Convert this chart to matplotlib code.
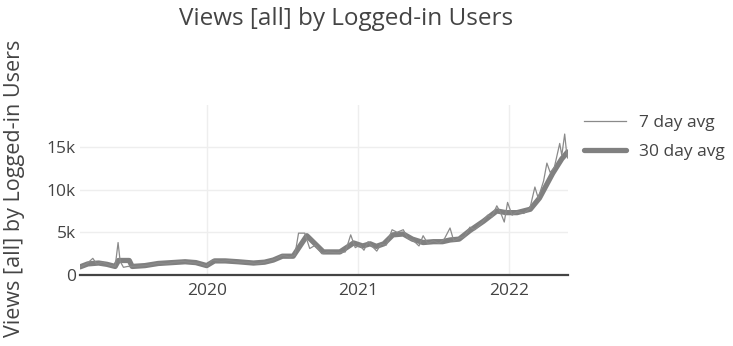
import matplotlib
matplotlib.use('Agg')
import matplotlib.pyplot as plt
from matplotlib.ticker import FuncFormatter
import numpy as np

plt.rcParams['font.family'] = ['Open Sans', 'DejaVu Sans']

TEXT = '#444444'
LINE = '#808080'

# 7 day average (thin, noisy)
dates_7 = ['2019-03-01', '2019-03-17', '2019-04-01', '2019-04-10', '2019-04-25',
           '2019-05-11', '2019-05-25', '2019-06-01', '2019-06-06', '2019-06-14',
           '2019-06-24', '2019-07-05', '2019-07-25', '2019-08-15', '2019-09-06',
           '2019-09-25', '2019-10-15', '2019-11-05', '2019-11-25', '2019-12-15',
           '2020-01-01', '2020-01-15', '2020-02-05', '2020-02-25', '2020-03-17',
           '2020-04-10', '2020-05-01', '2020-05-25', '2020-06-15', '2020-07-02',
           '2020-07-20', '2020-08-01', '2020-08-10', '2020-08-25', '2020-09-06',
           '2020-09-20', '2020-10-05', '2020-10-20', '2020-11-10', '2020-12-01',
           '2020-12-14', '2020-12-25', '2021-01-05', '2021-01-15', '2021-01-25',
           '2021-02-05', '2021-02-15', '2021-02-25', '2021-03-10', '2021-03-24',
           '2021-04-05', '2021-04-20', '2021-05-01', '2021-05-15', '2021-05-28',
           '2021-06-07', '2021-06-18', '2021-07-02', '2021-07-15', '2021-07-28',
           '2021-08-11', '2021-08-20', '2021-09-02', '2021-09-15', '2021-09-28',
           '2021-10-10', '2021-10-25', '2021-11-10', '2021-11-20', '2021-12-02',
           '2021-12-12', '2021-12-20', '2021-12-28', '2022-01-08', '2022-01-20',
           '2022-02-05', '2022-02-20', '2022-03-04', '2022-03-12', '2022-03-25',
           '2022-04-02', '2022-04-10', '2022-04-20', '2022-05-03', '2022-05-08',
           '2022-05-15', '2022-05-19', '2022-05-22']
views_7 = [900, 1300, 1950, 1300, 1500,
           1150, 1000, 3800, 1600, 900,
           1000, 1000, 1050, 1150, 1400,
           1300, 1500, 1600, 1450, 1350,
           1050, 1750, 1600, 1700, 1500,
           1500, 1300, 1550, 1850, 2300,
           2100, 2300, 4900, 4900, 3100,
           3500, 2500, 2700, 2600, 2700,
           4700, 3200, 3500, 2900, 3900,
           3300, 2800, 3600, 3500, 5300,
           5000, 5300, 4300, 4000, 3400,
           4600, 3700, 4000, 3700, 4200,
           5500, 4000, 4300, 4500, 5600,
           5300, 6000, 7000, 6800, 8100,
           7200, 6200, 8500, 7000, 7400,
           7200, 7800, 10300, 9000, 11000,
           13100, 12000, 12600, 15400, 14000,
           16500, 14600, 13700]

# 30 day average (thick, smooth)
dates_30 = ['2019-03-01', '2019-03-20', '2019-04-15', '2019-05-05', '2019-05-25',
            '2019-06-02', '2019-06-28', '2019-07-05', '2019-08-05', '2019-09-06',
            '2019-10-09', '2019-11-10', '2019-12-06', '2020-01-01', '2020-01-20',
            '2020-02-15', '2020-03-17', '2020-04-23', '2020-05-20', '2020-06-10',
            '2020-07-02', '2020-07-28', '2020-08-30', '2020-10-09', '2020-11-18',
            '2020-12-21', '2021-01-12', '2021-01-30', '2021-02-14', '2021-03-04',
            '2021-03-26', '2021-04-20', '2021-05-12', '2021-06-07', '2021-07-02',
            '2021-07-24', '2021-08-11', '2021-09-02', '2021-09-28', '2021-10-31',
            '2021-12-02', '2021-12-24', '2022-01-20', '2022-02-21', '2022-03-15',
            '2022-04-16', '2022-05-08', '2022-05-22']
views_30 = [950, 1300, 1400, 1250, 1000,
            1700, 1700, 1000, 1100, 1350,
            1450, 1550, 1450, 1100, 1650,
            1650, 1550, 1400, 1500, 1750,
            2200, 2200, 4600, 2700, 2700,
            3750, 3400, 3650, 3350, 3650,
            4700, 4800, 4200, 3800, 3900,
            3900, 4100, 4200, 5200, 6300,
            7500, 7300, 7300, 7700, 9000,
            11900, 13600, 14400]

year_ticks = ['2020-01-01', '2021-01-01', '2022-01-01']
year_labels = ['2020', '2021', '2022']

fig = plt.figure(figsize=(7.33, 3.46), dpi=100)
ax = fig.add_axes([80 / 733, 71 / 346, 488 / 733, 170 / 346])

d7 = np.array(dates_7, dtype='datetime64[D]')
d30 = np.array(dates_30, dtype='datetime64[D]')

ax.plot(d7, views_7, color='#8a8a8a', lw=0.9, label='7 day avg', zorder=3)
ax.plot(d30, views_30, color=LINE, lw=3.8, label='30 day avg', zorder=2,
        solid_joinstyle='round', solid_capstyle='round')

ax.set_xlim(np.datetime64('2019-03-01'), np.datetime64('2022-05-23'))
ax.set_ylim(0, 19900)

ax.set_xticks(np.array(year_ticks, dtype='datetime64[D]'))
ax.set_xticklabels(year_labels)
ax.set_yticks([0, 5000, 10000, 15000])
ax.yaxis.set_major_formatter(FuncFormatter(lambda v, p: '0' if v == 0 else f'{int(v / 1000)}k'))

ax.tick_params(axis='both', length=0, labelsize=12.5, colors=TEXT)
ax.tick_params(axis='x', pad=6)
ax.tick_params(axis='y', pad=3)

ax.grid(True, color='#eeeeee', lw=1)
ax.set_axisbelow(True)
for side in ['top', 'right', 'left']:
    ax.spines[side].set_visible(False)
ax.spines['bottom'].set_color(TEXT)
ax.spines['bottom'].set_linewidth(1.6)
ax.spines['bottom'].set_zorder(5)

fig.text(346 / 733, 1 - 19 / 346, 'Views [all] by Logged-in Users', ha='center', va='center',
         fontsize=17.5, color=TEXT)
fig.text(15 / 733, 1 - 188 / 346, 'Views [all] by Logged-in Users', ha='center', va='center',
         rotation=90, fontsize=15.5, color=TEXT)

ax.legend(loc='upper left', bbox_to_anchor=(584 / 733, 1 - 115 / 346),
          bbox_transform=fig.transFigure, frameon=False, fontsize=12.5,
          handlelength=2.4, handletextpad=0.75, labelspacing=0.75,
          borderaxespad=0, borderpad=0, labelcolor=TEXT)

fig.savefig('out.png', dpi=100)
